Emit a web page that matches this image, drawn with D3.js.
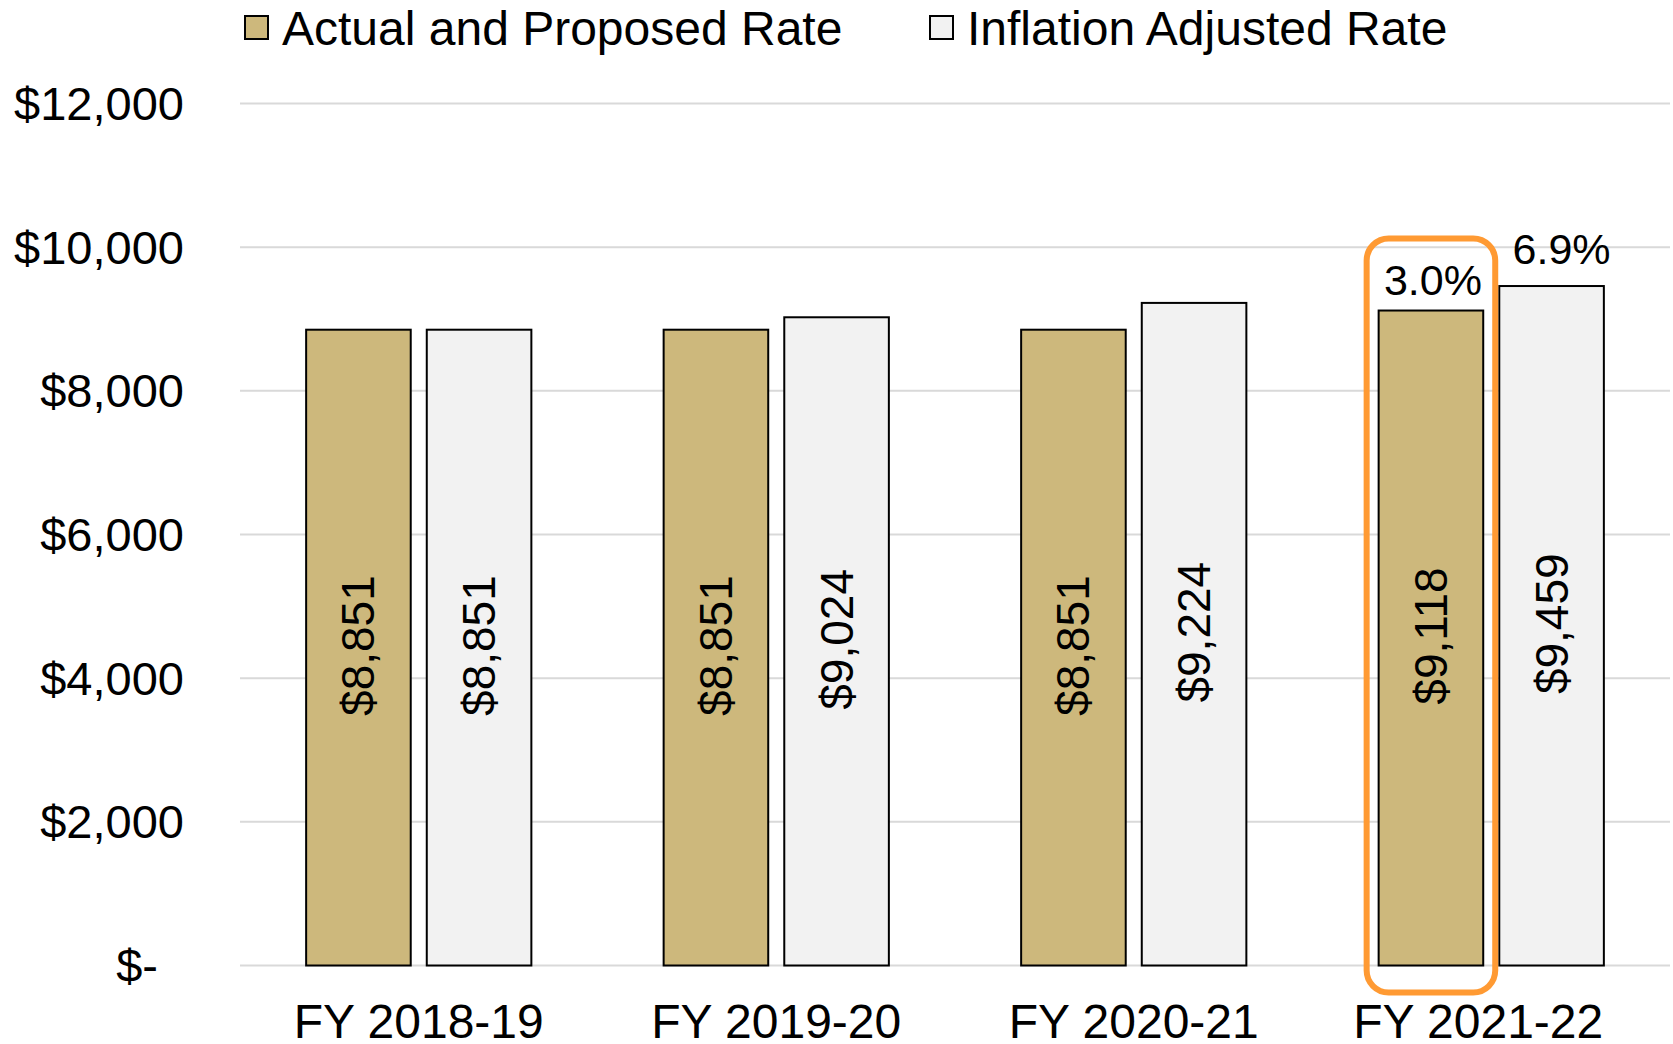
<!DOCTYPE html>
<html>
<head>
<meta charset="utf-8">
<script src="https://cdn.jsdelivr.net/npm/d3@7"></script>
<style>
  html, body { margin: 0; padding: 0; background: #ffffff; }
  svg text { font-family: "Liberation Sans", Arial, sans-serif; fill: #000000; }
</style>
</head>
<body>
<svg id="chart" width="1673" height="1044"></svg>
<script>
// chart data
const YEARS = ["FY 2018-19", "FY 2019-20", "FY 2020-21", "FY 2021-22"];
const SERIES = ["Actual and Proposed Rate", "Inflation Adjusted Rate"];
const actualRate = [8851, 8851, 8851, 9118];
const inflationRate = [8851, 9024, 9224, 9459];
const pctLabels = [null, null, null, ["3.0%", "6.9%"]];
const yTicks = [0, 2000, 4000, 6000, 8000, 10000, 12000];

const colors = ["#cdb87c", "#f2f2f2"];

const width = 1673, height = 1044;
const margin = { top: 103.5, right: 3, bottom: 78.5, left: 240 };

const svg = d3.select("#chart");

const x = d3.scaleBand()
  .domain(YEARS)
  .range([margin.left, width - margin.right])
  .paddingInner(0.37)
  .paddingOuter(0.185);

const xInner = d3.scaleBand()
  .domain([0, 1])
  .range([0, x.bandwidth()])
  .paddingInner(0.133);

const y = d3.scaleLinear()
  .domain([0, 12000])
  .range([height - margin.bottom, margin.top]);

// gridlines
svg.append("g")
  .selectAll("line")
  .data(yTicks)
  .join("line")
  .attr("x1", margin.left)
  .attr("x2", width - margin.right)
  .attr("y1", (d) => y(d))
  .attr("y2", (d) => y(d))
  .attr("stroke", "#d9d9d9")
  .attr("stroke-width", 2);

// y axis labels
const yAxis = svg.append("g")
  .attr("transform", `translate(${margin.left - 56},0)`)
  .call(
    d3.axisLeft(y)
      .tickValues(yTicks)
      .tickSize(0)
      .tickPadding(0)
      .tickFormat((d) => (d === 0 ? "$-" : "$" + d3.format(",")(d)))
  );
yAxis.select(".domain").remove();
yAxis.selectAll("text")
  .attr("font-size", 47)
  .attr("font-family", "Liberation Sans, Arial, sans-serif")
  .attr("dy", "0.34em")
  .attr("dx", (d) => (d === 0 ? -26 : 0));

// bars
const groups = svg.append("g")
  .selectAll("g")
  .data(YEARS)
  .join("g")
  .attr("transform", (d) => `translate(${x(d)},0)`);

const rows = YEARS.map((yr, i) => [actualRate[i], inflationRate[i]]);

groups.selectAll("rect")
  .data((d, i) => rows[i].map((v, s) => ({ v, s })))
  .join("rect")
  .attr("x", (d) => xInner(d.s))
  .attr("width", xInner.bandwidth())
  .attr("y", (d) => y(d.v))
  .attr("height", (d) => y(0) - y(d.v))
  .attr("fill", (d) => colors[d.s])
  .attr("stroke", "#000000")
  .attr("stroke-width", 2);

// rotated value labels
groups.selectAll("text.val")
  .data((d, i) => rows[i].map((v, s) => ({ v, s })))
  .join("text")
  .attr("class", "val")
  .attr("font-size", 46)
  .attr("text-anchor", "middle")
  .attr("dominant-baseline", "central")
  .attr("transform", (d) => {
    const cx = xInner(d.s) + xInner.bandwidth() / 2;
    const cy = (y(d.v) + y(0)) / 2 - 2;
    return `translate(${cx},${cy}) rotate(-90)`;
  })
  .text((d) => "$" + d3.format(",")(d.v));

// percent labels above the last group
const pctOffsets = [16, 22];
const pctShift = [2, 10];
groups.each(function (d, i) {
  if (!pctLabels[i]) return;
  d3.select(this).selectAll("text.pct")
    .data(pctLabels[i])
    .join("text")
    .attr("class", "pct")
    .attr("font-size", 43)
    .attr("text-anchor", "middle")
    .attr("x", (t, s) => xInner(s) + xInner.bandwidth() / 2 + pctShift[s])
    .attr("y", (t, s) => y(rows[i][s]) - pctOffsets[s])
    .text((t) => t);
});

// highlight box around proposed rate
const hi = YEARS.length - 1;
const hx = x(YEARS[hi]) + xInner(0);
svg.append("rect")
  .attr("x", hx - 12)
  .attr("y", y(actualRate[hi]) - 72)
  .attr("width", xInner.bandwidth() + 24)
  .attr("height", y(0) - y(actualRate[hi]) + 72 + 27)
  .attr("rx", 22)
  .attr("fill", "none")
  .attr("stroke", "#ff9a33")
  .attr("stroke-width", 6);

// x axis labels (last one nudged left so it stays inside the frame)
const xAxis = svg.append("g")
  .attr("transform", `translate(0,${y(0)})`)
  .call(d3.axisBottom(x).tickSize(0).tickPadding(72));
xAxis.select(".domain").remove();
xAxis.selectAll("text")
  .attr("font-size", 48)
  .attr("font-family", "Liberation Sans, Arial, sans-serif")
  .attr("dy", 0)
  .attr("dx", (d, i) => (i === YEARS.length - 1 ? -13 : 0));

// legend
const legendX = [245, 930];
const legend = svg.append("g")
  .selectAll("g")
  .data(SERIES)
  .join("g")
  .attr("transform", (d, i) => `translate(${legendX[i]},16)`);
legend.append("rect")
  .attr("width", 23)
  .attr("height", 23)
  .attr("fill", (d, i) => colors[i])
  .attr("stroke", "#000000")
  .attr("stroke-width", 2);
legend.append("text")
  .attr("x", 37)
  .attr("y", 12)
  .attr("dominant-baseline", "central")
  .attr("font-size", 48)
  .text((d) => d);
</script>
</body>
</html>
